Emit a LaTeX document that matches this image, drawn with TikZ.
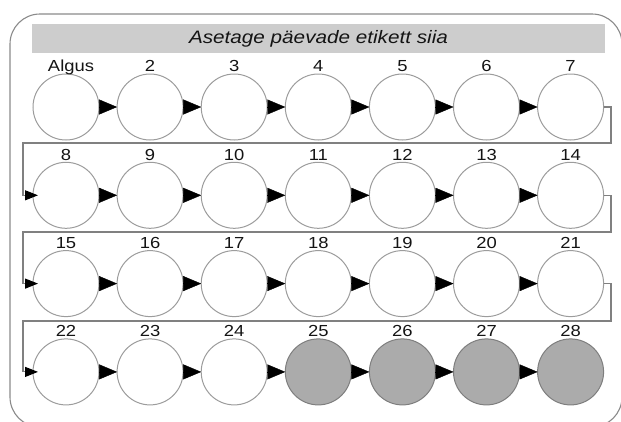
\documentclass[tikz,border=0pt]{standalone}
\usepackage{fontspec}
\setmainfont{Liberation Sans}
\usetikzlibrary{arrows.meta}

\definecolor{framegrey}{HTML}{8A8A8A}
\definecolor{ringgrey}{HTML}{9C9C9C}
\definecolor{bargrey}{HTML}{CDCDCD}
\definecolor{pillgrey}{HTML}{ABABAB}
\definecolor{pilledge}{HTML}{7E7E7E}
\definecolor{linkgrey}{HTML}{808080}
\definecolor{inkblack}{HTML}{141414}

% slightly widened lettering
\newcommand\widetext[1]{\scalebox{1.15}[1]{#1}}

\tikzset{
  ring/.style={circle, draw=ringgrey, line width=1pt, fill=white,
    minimum size=66pt, inner sep=0pt, outer sep=0pt},
  pill/.style={ring, draw=pilledge, fill=pillgrey},
  lbl/.style={font=\fontsize{16}{16}\selectfont, text=inkblack,
    inner sep=0pt, text depth=0pt, yshift=2pt},
  tri/.style={line width=0.4pt, -{Triangle[length=18pt,width=15pt]}},
  conn/.style={draw=linkgrey, line width=1.1pt,
    -{Triangle[length=13pt,width=10pt,color=black]}, shorten >=-5pt},
  frame/.style={draw=framegrey, line width=1.1pt, rounded corners=30pt},
  titlebar/.style={fill=bargrey, minimum width=573pt, minimum height=29pt,
    inner sep=0pt, text=inkblack,
    font=\fontsize{18}{18}\selectfont\itshape},
}

\begin{document}
\begin{tikzpicture}[x=1pt, y=-1pt]
  \useasboundingbox (0,0) rectangle (621,421);

  % outer card outline
  \begin{scope}
    \clip (0,0) rectangle (621,421);
    \draw[frame] (10,14) rectangle (622,427);
  \end{scope}

  % heading strip
  \node[titlebar] (title) at (318.5,38.5) {\widetext{Asetage päevade etikett siia}};

  % day circles: 7 per row, 4 rows
  \node[ring, label={[lbl, xshift=5pt]above:\widetext{Algus}}] (c1) at (66,107) {};
  \foreach \i in {2,...,24} {
    \pgfmathtruncatemacro\col{mod(\i-1,7)}
    \pgfmathtruncatemacro\row{floor((\i-1)/7)}
    \node[ring, label={[lbl]above:\widetext{\i}}] (c\i)
      at ({66+84.1*\col}, {107+88.3*\row}) {};
  }
  \foreach \i in {25,...,28} {
    \pgfmathtruncatemacro\col{mod(\i-1,7)}
    \node[pill, label={[lbl]above:\widetext{\i}}] (c\i)
      at ({66+84.1*\col}, {107+88.3*3}) {};
  }

  % arrows within each row
  \foreach \i in {1,...,27} {
    \pgfmathtruncatemacro\nxt{\i+1}
    \pgfmathtruncatemacro\rem{mod(\i,7)}
    \ifnum\rem>0
      \draw[tri] (c\i.east) -- (c\nxt.west);
    \fi
  }

  % row-to-row links
  \coordinate (tr1) at (611,143); \coordinate (tl1) at (23,143);
  \coordinate (tr2) at (611,232); \coordinate (tl2) at (23,232);
  \coordinate (tr3) at (611,321); \coordinate (tl3) at (23,321);
  \draw[conn] (c7.east)  -| (tr1) -- (tl1) |- (c8.west);
  \draw[conn] (c14.east) -| (tr2) -- (tl2) |- (c15.west);
  \draw[conn] (c21.east) -| (tr3) -- (tl3) |- (c22.west);
\end{tikzpicture}
\end{document}
